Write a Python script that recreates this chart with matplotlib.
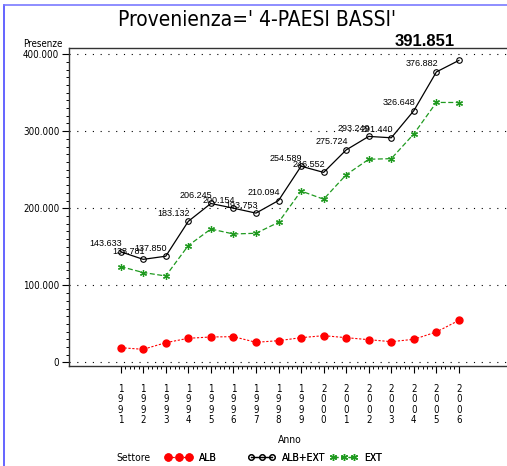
import numpy as np
import matplotlib
matplotlib.use("Agg")
from matplotlib import pyplot as plt
from matplotlib.ticker import FixedLocator, FuncFormatter
from matplotlib.lines import Line2D

years = list(range(1991, 2007))
alb_ext = [143633, 133781, 137850, 183132, 206245, 200154, 193753, 210094,
           254589, 246552, 275724, 293249, 291440, 326648, 376882, 391851]
alb = [19200, 17100, 25700, 31400, 33100, 33500, 26200, 28300,
       32200, 34800, 32200, 29600, 27000, 30100, 39600, 54700]
ext = [124400, 116700, 112200, 151700, 173100, 166700, 167600, 181800,
       222400, 211800, 243500, 263600, 264400, 296500, 337300, 337200]
y_ticks = [0, 100000, 200000, 300000, 400000]

narrow = ['DejaVu Sans']
stretch = 'condensed'


def it_fmt(v):
    return '{:,.0f}'.format(v).replace(',', '.')


fig = plt.figure(figsize=(5.07, 4.66), dpi=100)
ax = fig.add_axes([69 / 507, 1 - 366 / 466, 1 - 69 / 507, (366 - 48) / 466])

l_alb, = ax.plot(years, alb, color='#ff0000', lw=0.8, ls=(0, (2, 1.5)),
                 marker='o', ms=5, mec='#ff0000', mfc='#ff0000', label='ALB')
l_tot, = ax.plot(years, alb_ext, color='black', lw=0.9, marker='o', ms=4,
                 mfc='none', mec='black', mew=0.8, label='ALB+EXT')
l_ext, = ax.plot(years, ext, color='#1f9a1f', lw=0.9, ls=(0, (4, 2)),
                 marker=(6, 2, 0), ms=5, mew=0.9, label='EXT')

# value labels on the total series
for i, (x, v) in enumerate(zip(years, alb_ext)):
    if i == len(years) - 1:
        ax.annotate(it_fmt(v), (x, v), xytext=(-3, 8.5), textcoords='offset points',
                    ha='right', va='bottom', fontsize=12, fontweight='bold',
                    family='Liberation Sans', annotation_clip=False)
    else:
        ax.annotate(it_fmt(v), (x, v), xytext=(1, 2.5), textcoords='offset points',
                    ha='right', va='bottom', fontsize=6.5, family='Liberation Sans')

ax.set_xlim(1988.71, 2008.13)
ax.set_ylim(-4540, 407900)

ax.set_xticks(years)
ax.set_xticklabels(['\n'.join(str(y)) for y in years], family=narrow,
                   fontstretch=stretch, fontsize=7, linespacing=1.05)
ax.xaxis.set_minor_locator(FixedLocator(np.arange(1991, 2006.01, 0.2)))
ax.set_yticks(y_ticks)
ax.yaxis.set_major_formatter(FuncFormatter(lambda v, p: it_fmt(v)))
ax.yaxis.set_minor_locator(FixedLocator(np.arange(0, 400001, 10000)))
for lab in ax.get_yticklabels():
    lab.set_family(narrow)
    lab.set_fontstretch(stretch)
    lab.set_fontsize(7)

ax.tick_params(axis='both', which='major', direction='out', length=5, width=0.8, pad=2)
ax.tick_params(axis='both', which='minor', direction='out', length=2.5, width=0.7)
ax.tick_params(axis='x', which='major', pad=8)

ax.grid(axis='y', which='major', color='black', ls=(0, (1, 6)), lw=0.8)
ax.spines['right'].set_visible(False)
for s in ['left', 'top', 'bottom']:
    ax.spines[s].set_linewidth(1.0)
    ax.spines[s].set_color('#333333')

fig.text(257 / 507, 1 - 20 / 466, "Provenienza=' 4-PAESI BASSI'", ha='center',
         va='center', fontsize=15, family=narrow, fontstretch=stretch)
fig.text(63 / 507, 1 - 44 / 466, 'Presenze', ha='right', va='center',
         fontsize=7, family=narrow, fontstretch=stretch)
fig.text(290 / 507, 1 - 440 / 466, 'Anno', ha='center', va='center',
         fontsize=7.5, family=narrow, fontstretch=stretch)
fig.text(116 / 507, 1 - 458 / 466, 'Settore', ha='left', va='center',
         fontsize=7.5, family=narrow, fontstretch=stretch)

# legend entries placed individually
for h, xpos in [(l_alb, 165), (l_tot, 248), (l_ext, 330)]:
    leg = fig.legend(handles=[h], loc='center left',
                     bbox_to_anchor=(xpos / 507, 1 - 458 / 466), frameon=False,
                     numpoints=3, handlelength=2.6, handletextpad=0.7,
                     borderpad=0, borderaxespad=0,
                     prop={'family': narrow, 'stretch': stretch, 'size': 7.5})
    fig.add_artist(leg)

# blue frame edges
fig.add_artist(Line2D([4 / 507, 4 / 507], [0, 1 - 5 / 466], color='#4a4aff', lw=1.2,
                      transform=fig.transFigure))
fig.add_artist(Line2D([4 / 507, 1], [1 - 5 / 466, 1 - 5 / 466], color='#7a7aff', lw=1.2,
                      transform=fig.transFigure))

fig.savefig('out.png', dpi=100)
